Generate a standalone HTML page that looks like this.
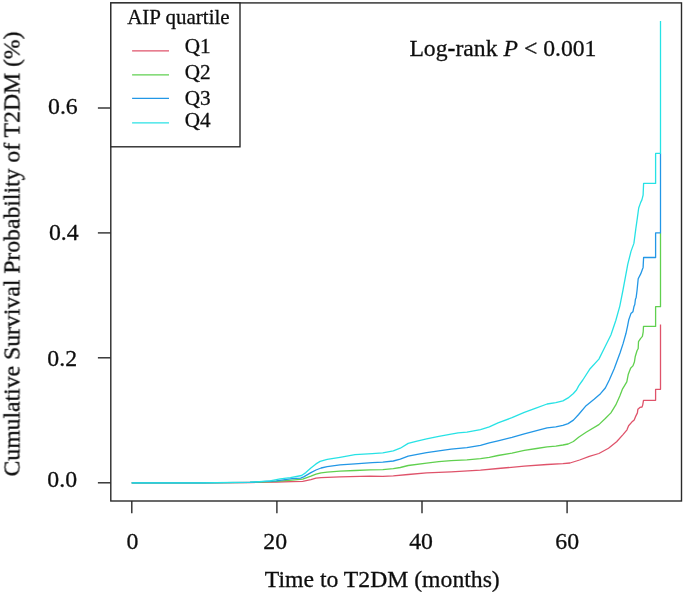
<!DOCTYPE html>
<html lang="en"><head><meta charset="utf-8"><title>Cumulative probability of T2DM by AIP quartile</title>
<style>html,body{margin:0;padding:0;background:#fff}body{width:685px;height:594px;overflow:hidden}svg{display:block}text{font-family:"Liberation Serif","DejaVu Serif",serif;fill:#111;stroke:#111;stroke-width:0.3px}</style></head><body>
<svg width="685" height="594" viewBox="0 0 685 594">
<rect width="685" height="594" fill="#fff"/>
<defs><filter id="s" filterUnits="userSpaceOnUse" x="0" y="0" width="685" height="594"><feGaussianBlur stdDeviation="0.55"/></filter><filter id="t" filterUnits="userSpaceOnUse" x="0" y="0" width="685" height="594"><feGaussianBlur stdDeviation="0.28"/></filter></defs>
<g filter="url(#s)">
<path d="M131.7,482.9 L200.0,482.8 L250.0,482.5 L276.3,482.0 L292.0,481.6 L302.7,481.3 L310.9,479.7 L316.0,478.2 L321.1,477.7 L340.0,476.9 L370.0,476.1 L382.8,476.4 L393.3,475.9 L408.2,474.5 L426.6,472.9 L451.1,471.8 L480.5,470.1 L498.0,468.5 L524.3,466.2 L547.1,464.5 L562.9,463.6 L570.0,463.0 L579.6,460.0 L589.3,456.3 L598.9,453.5 L608.5,448.2 L616.6,441.8 L623.0,434.6 L627.0,429.8 L628.6,425.8 L631.8,422.1 L634.2,420.1 L635.8,416.1 L637.4,412.9 L637.9,409.2 L639.9,407.4 L642.0,407.0 L642.7,405.1 L643.5,400.3 L655.6,400.3 L655.6,389.3 L660.5,389.3 L660.5,324.5" fill="none" stroke="#DF536B" stroke-width="1.3" stroke-linejoin="round" stroke-linecap="butt"/>
<path d="M131.7,482.9 L200.0,482.8 L250.0,482.4 L276.3,481.4 L292.0,480.2 L302.7,479.2 L306.8,477.7 L310.9,476.2 L316.0,474.1 L321.1,472.8 L327.2,472.1 L340.0,471.1 L355.0,470.5 L370.0,469.9 L382.8,469.6 L393.3,468.7 L400.3,467.5 L408.2,465.5 L426.6,463.1 L438.8,461.7 L451.1,460.6 L466.9,459.9 L480.5,458.7 L489.3,457.3 L498.0,455.5 L512.0,453.1 L524.3,450.4 L536.6,448.5 L547.1,446.8 L555.8,446.1 L562.9,445.0 L568.1,444.0 L573.4,441.5 L578.6,437.3 L586.1,432.2 L598.9,424.6 L605.3,418.5 L610.9,412.9 L615.8,404.9 L619.8,396.1 L622.3,389.4 L626.8,381.8 L628.3,374.2 L630.6,368.2 L632.9,365.9 L634.4,362.1 L635.2,356.8 L637.0,350.8 L638.2,348.5 L638.5,341.7 L640.5,338.6 L642.4,336.4 L643.2,331.8 L643.5,326.4 L655.6,326.4 L655.6,306.7 L660.5,306.7 L660.5,232.9" fill="none" stroke="#61D04F" stroke-width="1.3" stroke-linejoin="round" stroke-linecap="butt"/>
<path d="M131.7,482.9 L200.0,482.8 L250.0,482.3 L276.3,480.9 L292.0,478.7 L300.7,478.2 L303.7,476.9 L310.9,472.6 L316.0,470.0 L321.1,468.0 L327.2,466.7 L340.0,464.9 L355.0,463.8 L372.3,462.7 L382.8,462.2 L393.3,461.0 L400.3,459.2 L408.2,456.1 L416.0,454.7 L426.6,452.6 L438.8,450.8 L451.1,449.1 L466.9,447.7 L480.5,445.4 L489.3,442.9 L498.0,440.8 L512.0,437.3 L524.3,433.8 L536.6,430.6 L547.1,427.8 L555.8,426.8 L562.9,425.4 L568.1,423.6 L573.4,420.1 L578.6,414.5 L586.1,405.7 L594.1,399.3 L600.5,393.7 L605.3,388.0 L609.3,380.0 L614.2,368.7 L620.0,353.0 L623.0,343.9 L626.0,333.3 L627.6,325.8 L628.8,319.7 L630.9,313.6 L632.9,311.8 L633.9,306.8 L634.8,304.5 L635.4,299.5 L636.2,297.2 L637.1,290.0 L638.2,278.7 L640.7,273.9 L643.1,267.4 L643.6,257.5 L655.6,257.5 L655.6,232.9 L660.5,232.9 L660.5,153.4" fill="none" stroke="#2297E6" stroke-width="1.3" stroke-linejoin="round" stroke-linecap="butt"/>
<path d="M131.7,482.9 L200.0,482.8 L250.0,482.2 L270.0,480.8 L280.2,478.9 L290.4,477.7 L301.7,475.5 L305.8,472.6 L310.9,468.0 L316.0,463.9 L320.1,461.4 L327.2,459.3 L340.0,457.3 L355.0,454.7 L372.3,453.6 L382.8,452.9 L393.3,450.8 L400.3,448.2 L408.2,443.4 L416.0,441.3 L426.6,438.9 L438.8,436.4 L451.1,434.2 L458.1,432.9 L466.9,432.2 L480.5,429.6 L489.3,426.8 L498.0,422.9 L512.0,417.7 L524.3,412.4 L536.6,407.9 L547.1,404.0 L555.8,402.6 L562.9,400.9 L568.1,397.9 L573.4,393.5 L576.5,390.0 L578.8,385.6 L582.8,380.0 L590.1,368.7 L598.9,359.1 L605.3,346.2 L610.9,335.0 L615.8,320.5 L619.8,306.1 L623.0,290.0 L627.8,264.2 L631.0,251.4 L633.9,243.4 L635.8,228.9 L637.4,217.7 L638.7,208.0 L640.7,202.4 L641.9,199.9 L643.1,195.1 L643.6,183.4 L655.6,183.4 L655.6,153.4 L660.5,153.4 L660.5,21.1" fill="none" stroke="#28E2E5" stroke-width="1.3" stroke-linejoin="round" stroke-linecap="butt"/>
</g>
<g filter="url(#t)">
<rect x="110.8" y="2.9" width="570.7" height="498.1" fill="none" stroke="#2a2a2a" stroke-width="1.4"/>
<line x1="131.8" y1="501.0" x2="131.8" y2="513.3" stroke="#2a2a2a" stroke-width="1.4"/>
<text x="132.4" y="548.5" font-size="23.8" text-anchor="middle">0</text>
<line x1="276.9" y1="501.0" x2="276.9" y2="513.3" stroke="#2a2a2a" stroke-width="1.4"/>
<text x="275.2" y="548.5" font-size="23.8" text-anchor="middle">20</text>
<line x1="422.0" y1="501.0" x2="422.0" y2="513.3" stroke="#2a2a2a" stroke-width="1.4"/>
<text x="421.1" y="548.5" font-size="23.8" text-anchor="middle">40</text>
<line x1="567.1" y1="501.0" x2="567.1" y2="513.3" stroke="#2a2a2a" stroke-width="1.4"/>
<text x="567.2" y="548.5" font-size="23.8" text-anchor="middle">60</text>
<line x1="97.9" y1="482.8" x2="110.8" y2="482.8" stroke="#2a2a2a" stroke-width="1.4"/>
<text x="47.3" y="487.2" font-size="23.8">0.0</text>
<line x1="97.9" y1="357.8" x2="110.8" y2="357.8" stroke="#2a2a2a" stroke-width="1.4"/>
<text x="47.3" y="366.2" font-size="23.8">0.2</text>
<line x1="97.9" y1="232.9" x2="110.8" y2="232.9" stroke="#2a2a2a" stroke-width="1.4"/>
<text x="48.9" y="240.3" font-size="23.8">0.4</text>
<line x1="97.9" y1="108.0" x2="110.8" y2="108.0" stroke="#2a2a2a" stroke-width="1.4"/>
<text x="48.0" y="114.2" font-size="23.8">0.6</text>
<rect x="110.8" y="2.9" width="129.2" height="143.9" fill="#fff" stroke="#2a2a2a" stroke-width="1.4"/>
<text x="127.2" y="24.3" font-size="21.0">AIP quartile</text>
<line x1="132.1" y1="50.90" x2="169" y2="50.90" stroke="#DF536B" stroke-width="1.25" filter="url(#s)"/>
<text x="184.7" y="53.0" font-size="21.2">Q1</text>
<line x1="132.1" y1="74.80" x2="169" y2="74.80" stroke="#61D04F" stroke-width="1.25" filter="url(#s)"/>
<text x="184.7" y="79.3" font-size="21.2">Q2</text>
<line x1="132.1" y1="98.45" x2="169" y2="98.45" stroke="#2297E6" stroke-width="1.25" filter="url(#s)"/>
<text x="184.7" y="105.0" font-size="21.2">Q3</text>
<line x1="132.1" y1="122.80" x2="169" y2="122.80" stroke="#28E2E5" stroke-width="1.25" filter="url(#s)"/>
<text x="184.7" y="127.3" font-size="21.2">Q4</text>
<text x="409.4" y="55.9" font-size="23.7">Log<tspan font-weight="bold">-</tspan>rank <tspan font-style="italic">P</tspan> &lt; 0.001</text>
<text x="382.3" y="586.7" font-size="23.7" text-anchor="middle">Time to T2DM (months)</text>
<text transform="translate(19.5,253.9) rotate(-90)" font-size="23.7" text-anchor="middle">Cumulative Survival Probability of T2DM (%)</text>
</g>
</svg></body></html>
